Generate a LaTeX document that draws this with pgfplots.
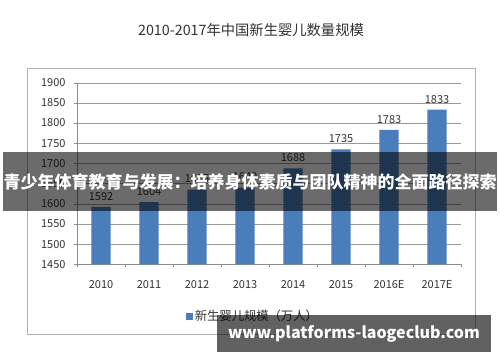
\documentclass[border=0pt]{standalone}
\usepackage{pgfplots}
\pgfplotsset{compat=1.18}
\usepackage{fontspec}
\setmainfont{Noto Sans CJK SC}
\definecolor{barblue}{RGB}{74,126,187}
\begin{document}
\begin{tikzpicture}[x=1pt,y=1pt]
\fill[white] (0pt,0pt) rectangle (500pt,362pt);
\draw[black!30] (27pt,28pt) rectangle (475pt,294pt);
\node[font=\fontsize{14.3}{16}\selectfont, text=black!80] at (251pt,332pt) {2010-2017年中国新生婴儿数量规模};
\begin{axis}[
  at={(77pt,97.7pt)}, anchor=south west,
  scale only axis, width=384pt, height=181.6pt,
  ymin=1450, ymax=1900, ytick distance=50,
  xmin=-0.5, xmax=7.5,
  xtick={-0.5,0.5,...,7.5},
  x tick label as interval,
  xticklabels={2010,2011,2012,2013,2014,2015,2016E,2017E},
  ybar, bar width=19.3pt,
  axis x line*=bottom, axis y line*=left,
  axis line style={black!45,-},
  ymajorgrids, grid style={black!40},
  tick align=outside, major tick length=3pt,
  tick style={black!45},
  ticklabel style={font=\fontsize{11}{13}\selectfont, text=black!80},
  /pgf/number format/assume math mode=true,
  /pgf/number format/set thousands separator={},
  xticklabel style={yshift=-10pt},
  yticklabel style={xshift=-5pt},
  nodes near coords,
  nodes near coords style={font=\fontsize{11}{13}\selectfont, text=black!80, yshift=3pt, /pgf/number format/set thousands separator={}, /pgf/number format/assume math mode=true},
  legend style={at={(0.458,-0.285)}, anchor=center, draw=none, fill=none, font=\fontsize{12.3}{14}\selectfont, text=black!80},
  legend image code/.code={\fill[barblue] (0pt,-3.5pt) rectangle (7pt,3.5pt);},
  clip=false,
]
\addplot[fill=barblue, draw=none] coordinates {(0,1592) (1,1604) (2,1635) (3,1640) (4,1688) (5,1735) (6,1783) (7,1833)};
\addlegendentry{新生婴儿规模（万人）}
\end{axis}
\fill[black, opacity=0.58] (3pt,151pt) rectangle (497pt,210pt);
\node[font=\fontsize{17}{19}\selectfont\bfseries, text=white] at (250pt,180pt) {青少年体育教育与发展：培养身体素质与团队精神的全面路径探索};
\fill[black, opacity=0.62] (217pt,10pt) rectangle (491pt,47pt);
\node[font=\fontsize{16}{18}\selectfont\bfseries, text=white] at (354pt,28.5pt) {www.platforms-laogeclub.com};
\end{tikzpicture}
\end{document}
